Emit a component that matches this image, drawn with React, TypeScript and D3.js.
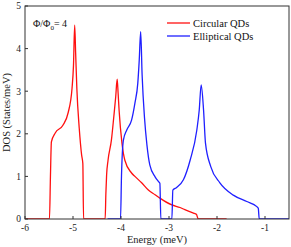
import React from "react";
import * as d3 from "d3";

const circularE = [-6, -5.49, -5.47, -5.45, -5.37, -5.21, -5.1, -5.02, -4.99, -4.965, -4.945, -4.92, -4.87, -4.82, -4.795, -4.78, -4.33, -4.315, -4.3, -4.27, -4.2, -4.15, -4.11, -4.08, -4.06, -4.04, -3.98, -3.92, -3.78, -3.71, -3.57, -3.43, -3.29, -3.19, -2.94, -2.77, -2.67, -2.49, -2.43, -2.39, -1.8];
const circularDOS = [0, 0, 1.0, 1.81, 2.02, 2.2, 2.5, 3.07, 3.6, 4.55, 3.9, 3.07, 2.13, 1.5, 1.3, 0, 0, 0.6, 1.03, 1.38, 1.85, 2.4, 2.87, 3.28, 2.95, 2.56, 1.78, 1.38, 1.08, 1.0, 0.85, 0.68, 0.57, 0.49, 0.33, 0.27, 0.22, 0.14, 0.11, 0, 0];

const ellipticalE = [-4.28, -4.01, -3.99, -3.95, -3.88, -3.78, -3.71, -3.65, -3.62, -3.59, -3.56, -3.51, -3.46, -3.4, -3.29, -3.22, -3.19, -3.17, -2.94, -2.92, -2.84, -2.7, -2.56, -2.42, -2.37, -2.33, -2.28, -2.24, -2.13, -1.94, -1.66, -1.38, -1.17, -1.14, -1.12, -0.5];
const ellipticalDOS = [0, 0, 1.0, 1.85, 2.09, 2.32, 2.72, 3.19, 3.73, 4.4, 3.38, 2.37, 1.74, 1.27, 0.99, 0.88, 0.84, 0, 0, 0.68, 0.74, 0.92, 1.38, 2.09, 2.56, 3.15, 2.56, 1.78, 1.23, 0.85, 0.56, 0.41, 0.29, 0.25, 0, 0];

const xTicks = [-6, -5, -4, -3, -2, -1];
const yTicks = [0, 1, 2, 3, 4, 5];
const seriesNames = ["Circular QDs", "Elliptical QDs"];
const seriesColors = ["#ff1010", "#1f1fff"];

const W = 291;
const H = 247;
const left = 25;
const right = 289;
const top = 6;
const bottom = 219;

export default function App() {
  const x = d3.scaleLinear().domain([-6, -0.5]).range([left, right]);
  const y = d3.scaleLinear().domain([0, 5]).range([bottom, top]);

  const mk = (es: number[], vs: number[]) =>
    d3
      .line<[number, number]>()
      .x((d) => x(d[0]))
      .y((d) => y(d[1]))
      .curve(d3.curveMonotoneX)(es.map((e, i) => [e, vs[i]] as [number, number])) || "";

  const series = [
    mk(circularE, circularDOS),
    mk(ellipticalE, ellipticalDOS),
  ];

  const font = "'Liberation Serif', 'Times New Roman', serif";

  return (
    <svg
      width={W}
      height={H}
      style={{ position: "absolute", left: 0, top: 0, background: "#fff" }}
      fontFamily={font}
    >
      <rect x={0} y={0} width={W} height={H} fill="#fff" />
      <defs>
        <clipPath id="plot">
          <rect x={left} y={top} width={right - left} height={bottom - top} />
        </clipPath>
      </defs>
      {series.map((d, i) => (
        <path
          key={i}
          d={d}
          fill="none"
          stroke={seriesColors[i]}
          strokeWidth={1.3}
          clipPath="url(#plot)"
        />
      ))}
      <rect
        x={left}
        y={top}
        width={right - left}
        height={bottom - top}
        fill="none"
        stroke="#333"
        strokeWidth={1}
      />
      {xTicks.map((t) => (
        <g key={"x" + t}>
          <line x1={x(t)} x2={x(t)} y1={bottom} y2={bottom - 3} stroke="#333" />
          <text x={x(t)} y={bottom + 12} fontSize={9.5} textAnchor="middle" fill="#222">
            {t}
          </text>
        </g>
      ))}
      {yTicks.map((t) => (
        <g key={"y" + t}>
          <line x1={left} x2={left + 3} y1={y(t)} y2={y(t)} stroke="#333" />
          <text x={left - 4} y={y(t) + 3.3} fontSize={9.5} textAnchor="end" fill="#222">
            {t}
          </text>
        </g>
      ))}
      <text x={(left + right) / 2} y={243} fontSize={10.5} textAnchor="middle" fill="#222">
        Energy (meV)
      </text>
      <text
        transform={`translate(10, ${(top + bottom) / 2}) rotate(-90)`}
        fontSize={10.5}
        textAnchor="middle"
        fill="#222"
      >
        DOS (States/meV)
      </text>
      <text x={33} y={27} fontSize={10} fill="#111">
        Φ/Φ<tspan fontSize={7} dy={2.5}>0</tspan>
        <tspan dy={-2.5}>= 4</tspan>
      </text>
      {seriesNames.map((n, i) => (
        <g key={n}>
          <line
            x1={167}
            x2={190}
            y1={23 + i * 13}
            y2={23 + i * 13}
            stroke={seriesColors[i]}
            strokeWidth={1.3}
          />
          <text x={193} y={26.5 + i * 13} fontSize={10.5} fill="#111">
            {n}
          </text>
        </g>
      ))}
    </svg>
  );
}
